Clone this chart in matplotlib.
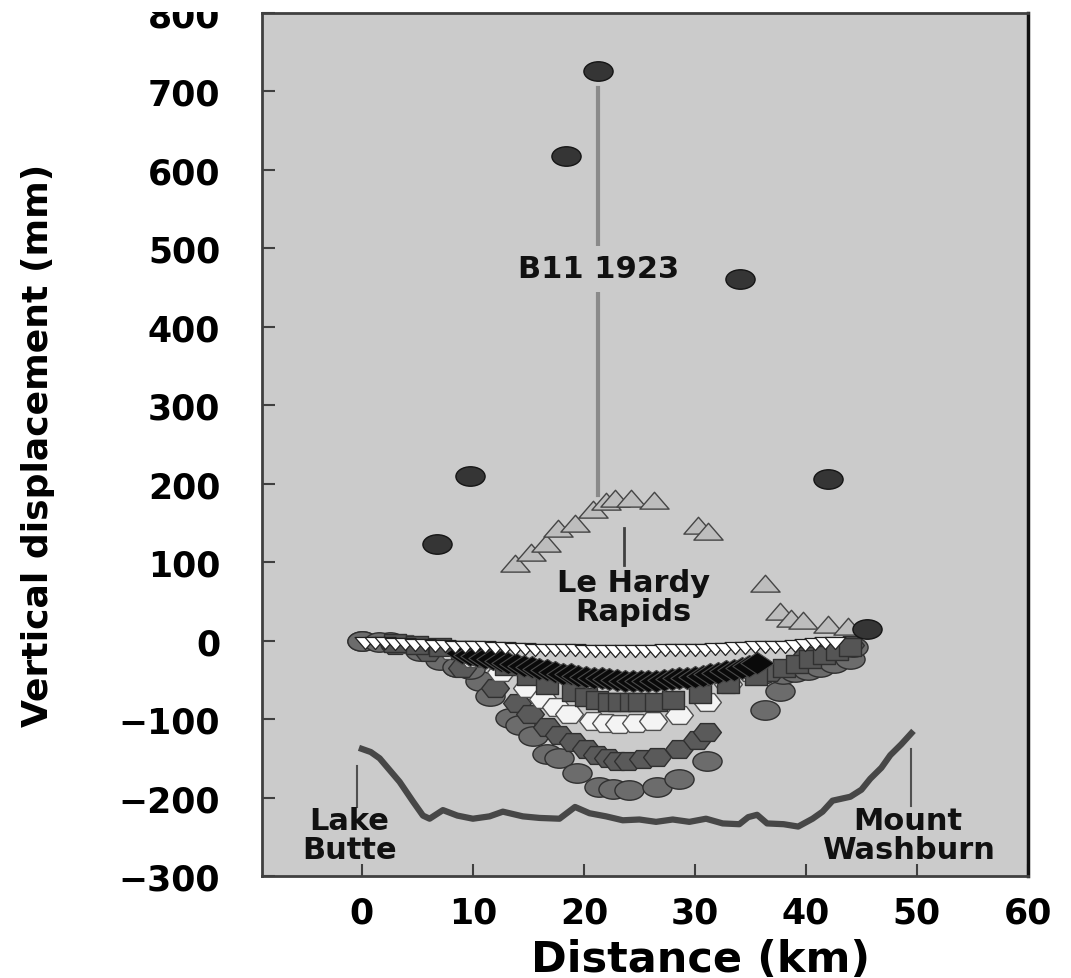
#!/usr/bin/python
# -*- coding: utf-8 -*-
"""Vertical displacement profile, Lake Butte -> Mount Washburn leveling line"""

import numpy as np
import matplotlib
matplotlib.use('Agg')
import matplotlib.pyplot as plt
from matplotlib.path import Path
from matplotlib.patches import Rectangle
from matplotlib.transforms import Affine2D

### Data #######################################################################
# B11 1923 leveling (dark ellipses)
b11_x = [6.8, 9.7, 18.4, 21.3, 34.1, 42.0, 45.5]
b11_y = [123, 210, 618, 726, 461, 206, 15]

# uplift series (light grey triangles)
tri_x = [13.8, 15.2, 16.6, 17.7, 19.2, 20.8, 22.0, 22.8, 24.2, 26.3, 30.3, 31.2,
         36.3, 37.7, 38.7, 39.7, 42.0, 43.8]
tri_y = [95, 109, 121, 140, 146, 164, 174, 178, 178, 175, 143, 136,
         70, 34, 25, 22, 18, 15]

# nearly flat series (white down triangles)
dtri_x = [0.3, 1.2, 2.1, 3.0, 3.9, 4.8, 5.7, 6.6, 7.5, 8.4, 9.3, 10.2, 11.1,
          12.0, 12.9, 13.8, 14.7, 15.6, 16.5, 17.4, 18.3, 19.2, 20.1, 21.0,
          21.9, 22.8, 23.7, 24.6, 25.5, 26.4, 27.3, 28.2, 29.1, 30.0, 30.9,
          31.8, 32.7, 33.6, 34.5, 35.4, 36.3, 37.2, 38.1, 39.0, 39.9, 40.8,
          41.7, 42.6]
dtri_y = [0, -1, -1, -2, -2, -3, -3, -4, -4, -5, -5, -6, -6,
          -7, -7, -8, -8, -9, -9, -10, -10, -10, -11, -11,
          -11, -11, -11, -11, -11, -11, -10, -10, -10, -9, -9,
          -8, -8, -7, -7, -6, -6, -5, -5, -4, -3, -2,
          -1, 0]

# black series
blk_x = [9.0, 9.7, 10.4, 11.1, 11.8, 12.5, 13.2, 13.9, 14.6, 15.3, 16.0, 16.7,
         17.4, 18.1, 18.8, 19.5, 20.2, 20.9, 21.6, 22.3, 23.0, 23.7, 24.4,
         25.1, 25.8, 26.5, 27.2, 27.9, 28.6, 29.3, 30.0, 30.7, 31.4, 32.1,
         32.8, 33.5, 34.2, 34.9, 35.6]
blk_y = [-16, -18, -20, -22, -24, -26, -28, -30, -32, -34, -36, -38,
         -40, -42, -43, -45, -46, -47, -48, -49, -50, -51, -52,
         -52, -52, -51, -50, -49, -48, -47, -46, -45, -43, -41,
         -39, -37, -35, -32, -29]

# dark grey squares
sq_x = [3, 5, 7, 9, 11, 13, 15, 16.7, 19.0, 20.2, 21.2, 22.3, 23.2, 24.2,
        25.0, 26.5, 28.0, 30.5, 33.0, 35.5, 38.0, 39.2, 40.4, 41.6, 42.8, 44.0]
sq_y = [-3, -5, -8, -12, -20, -32, -45, -57, -65, -72, -76, -78, -78, -78,
        -78, -78, -76, -68, -55, -45, -35, -30, -24, -18, -13, -8]

# white hexagons
whex_x = [4, 8, 10, 12.5, 14.9, 16.3, 17.5, 18.7, 20.8, 22.0, 23.2, 24.7,
          26.2, 28.6, 31.1, 33.0, 35.0]
whex_y = [-4, -12, -22, -40, -61, -74, -85, -93, -103, -105, -106, -105,
          -103, -95, -78, -55, -40]

# dark grey hexagons
dhex_x = [3, 6, 9, 12, 14.0, 15.1, 16.7, 17.8, 19.0, 20.2, 21.2, 22.2,
          23.0, 24.0, 25.3, 26.6, 28.6, 30.2, 31.1, 36.8, 40.0, 42.0, 44.0]
dhex_y = [-5, -15, -35, -60, -80, -93, -110, -120, -129, -138, -146, -150,
          -153, -153, -151, -148, -138, -127, -116, -40, -20, -12, -5]

# grey circles, deepest series
circ1_x = [0, 2.5, 5.9, 8.6, 10.6, 11.5, 13.3, 14.2, 15.4, 16.7, 17.8, 19.4,
           21.4, 22.6, 24.1, 26.6, 28.6, 31.1, 36.3, 37.7]
circ1_y = [0, -2, -13, -33, -52, -70, -99, -108, -122, -144, -150, -169,
           -186, -189, -191, -186, -176, -153, -89, -64]

# grey circles, shallow series
circ2_x = [0, 1.5, 3, 5.2, 7.0, 8.6, 9.7, 36, 37.9, 39.0, 40.2, 41.3, 42.5,
           44.0, 44.2]
circ2_y = [0, -2, -4, -13, -25, -33, -36, -42, -42, -40, -37, -33, -28,
           -23, -8]

# topographic profile
topo_x = [0.0, 0.8, 1.6, 2.5, 3.4, 4.6, 5.5, 6.1, 7.3, 8.6, 10.0, 11.5, 12.7,
          14.5, 16.0, 17.8, 19.2, 20.5, 22.0, 23.5, 25.0, 26.5, 28.0, 29.5,
          31.0, 32.5, 34.0, 34.8, 35.6, 36.5, 38.0, 39.3, 40.6, 41.5, 42.4,
          44.0, 45.0, 45.8, 46.8, 47.6, 48.6, 49.5]
topo_y = [-138, -142, -150, -165, -180, -205, -223, -227, -216, -223, -227,
          -224, -218, -224, -226, -227, -212, -220, -224, -229, -228, -231,
          -228, -231, -227, -233, -234, -225, -222, -233, -234, -237, -227,
          -218, -204, -199, -190, -176, -162, -146, -132, -118]

yticks = [-300, -200, -100, 0, 100, 200, 300, 400, 500, 600, 700, 800]
xticks = [0, 10, 20, 30, 40, 50, 60]

### Marker shapes (all stretched horizontally like the original) ##############
stretch = Affine2D().scale(1.5, 1.0)
m_ell = Path.unit_circle().transformed(stretch)
m_hex = Path.unit_regular_polygon(6).transformed(
    Affine2D().rotate_deg(90).scale(1.35, 1.0))
m_tri = Path.unit_regular_polygon(3).transformed(stretch)
m_dtri = Path.unit_regular_polygon(3).transformed(
    Affine2D().rotate_deg(180).scale(1.5, 1.0))
m_sq = Path.unit_rectangle().transformed(
    Affine2D().translate(-0.5, -0.5).scale(1.25, 1.0))
m_dia = Path.unit_regular_polygon(4).transformed(Affine2D().scale(1.5, 1.0))

### Plot #######################################################################
bg = '#cbcbcb'
fig = plt.figure(figsize=(10.71, 9.79), dpi=100)
ax = fig.add_axes([0.2446, 0.1042, 0.7152, 0.8815])
ax.set_facecolor(bg)

# topography
ax.plot(topo_x, topo_y, '-', color='#474747', lw=4.5, solid_joinstyle='round',
        zorder=2)

ax.plot(circ1_x, circ1_y, ls='none', marker=m_ell, ms=21, mfc='#6c6c6c',
        mec='#303030', mew=1.0, zorder=3)
ax.plot(circ2_x, circ2_y, ls='none', marker=m_ell, ms=21, mfc='#6c6c6c',
        mec='#303030', mew=1.0, zorder=4)
ax.plot(dhex_x, dhex_y, ls='none', marker=m_hex, ms=20, mfc='#5a5a5a',
        mec='#303030', mew=1.0, zorder=4)
ax.plot(whex_x, whex_y, ls='none', marker=m_hex, ms=20, mfc='#f4f4f4',
        mec='#505050', mew=1.0, zorder=5)
ax.plot(sq_x, sq_y, ls='none', marker=m_sq, ms=16, mfc='#555555',
        mec='#303030', mew=1.0, zorder=6)
ax.plot(blk_x, blk_y, ls='none', marker=m_dia, ms=24, mfc='#0a0a0a',
        mec='#4a4a4a', mew=0.8, zorder=7)
ax.plot(dtri_x, dtri_y, ls='none', marker=m_dtri, ms=15, mfc='white',
        mec='#202020', mew=0.9, zorder=8)
ax.plot(tri_x, tri_y, ls='none', marker=m_tri, ms=21, mfc='#bdbdbd',
        mec='#454545', mew=1.0, zorder=9)
ax.plot(b11_x, b11_y, ls='none', marker=m_ell, ms=21, mfc='#353535',
        mec='#151515', mew=1.0, zorder=10)

# annotations
txt = dict(fontsize=22, fontweight='heavy', color='#111111', ha='center',
           va='center', linespacing=1.0)
ax.plot([21.3, 21.3], [186, 704], '-', color='#8a8a8a', lw=3, zorder=2)
ax.text(21.3, 474, 'B11 1923', zorder=11,
        bbox=dict(facecolor=bg, edgecolor='none', pad=6), **txt)

ax.plot([23.6, 23.6], [96, 144], '-', color='#404040', lw=2, zorder=2)
ax.text(24.5, 56, 'Le Hardy\nRapids', zorder=11, **txt)

ax.plot([-0.4, -0.4], [-160, -212], '-', color='#505050', lw=1.5, zorder=2)
ax.text(-1.1, -248, 'Lake\nButte', zorder=11, **txt)

ax.plot([49.5, 49.5], [-138, -211], '-', color='#505050', lw=1.5, zorder=2)
ax.text(49.2, -248, 'Mount\nWashburn', zorder=11, **txt)

# axes
ax.set_xlim(-9, 60)
ax.set_ylim(-300, 800)
ax.set_xticks(xticks)
ax.set_yticks(yticks)
ax.tick_params(direction='in', length=9, width=1.5, color='#404040',
               labelsize=25)
ax.tick_params(axis='y', pad=30)
ax.tick_params(axis='x', pad=14)
for lab in ax.get_xticklabels() + ax.get_yticklabels():
    lab.set_fontweight('heavy')
for side in ['left', 'bottom', 'top']:
    ax.spines[side].set_color('#404040')
    ax.spines[side].set_linewidth(2)
ax.spines['right'].set_color('#111111')
ax.spines['right'].set_linewidth(2.5)

ax.set_xlabel('Distance (km)', fontsize=31, fontweight='heavy')
ax.xaxis.set_label_coords(0.572, -0.072)
ax.set_ylabel('Vertical displacement (mm)', fontsize=26, fontweight='heavy')
ax.yaxis.set_label_coords(-0.27, 0.5)

# the original is cropped just above the axes: top of the "800" label is cut
fig.patches.append(Rectangle((0, 1 - 13 / 979), 0.24, 13 / 979,
                             transform=fig.transFigure, facecolor='white',
                             edgecolor='none', zorder=10))

fig.savefig('out.png', dpi=100)
